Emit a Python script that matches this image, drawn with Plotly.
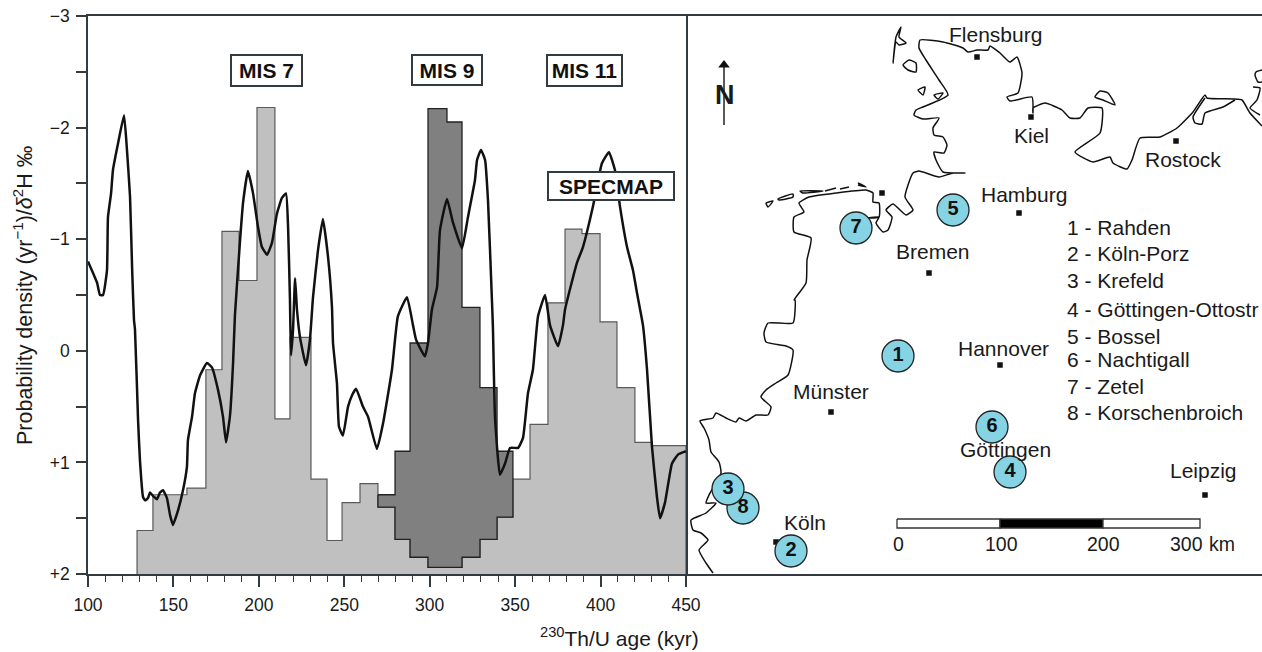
import plotly.graph_objects as go

# ---- left panel: age histogram (kyr) and SPECMAP curve ----
hist_edges = [128.7, 138.0, 157.9, 169.0, 178.4, 188.4, 198.9, 209.4, 218.2, 230.5, 239.9, 248.7, 259.2,
              269.7, 279.7, 288.5, 299.0, 310.1, 318.9, 329.4, 339.4, 348.7, 358.7, 369.2, 379.2, 389.1,
              399.7, 409.6, 420.1, 430.1, 450.0]
light_tops = [1.61, 1.29, 1.23, 0.17, -1.07, -0.63, -2.18, 0.61, -0.12, 1.15, 1.70, 1.36, 1.19,
              1.40, 1.69, 1.85, 1.94, 1.94, 1.85, 1.69, 1.49, 1.15, 0.66, -0.43, -1.09, -1.05,
              -0.26, 0.33, 0.82, 0.85]
dark_edges = [269.7, 279.7, 288.5, 299.0, 310.1, 318.9, 329.4, 339.4, 348.7]
dark_tops = [1.29, 0.90, -0.07, -2.17, -2.05, -0.39, 0.33, 0.90]
dark_bottoms = [1.40, 1.69, 1.85, 1.94, 1.94, 1.85, 1.69, 1.49]

curve_age = [100, 102.3, 105.3, 107.0, 108.8, 111.1, 111.7, 113.5, 114.6, 117.6, 121.1, 122.8, 124.6, 125.8,
             126.9, 127.5, 129.3, 130.4, 132.2, 133.4, 135.1, 136.3, 138.0, 140.4, 142.1, 143.9, 146.2, 148.0,
             149.7, 152.7, 155.6, 157.9, 158.5, 160.9, 162.6, 165.6, 169.6, 172.6, 176.1, 179.0, 180.8, 183.1,
             184.9, 186.0, 189.0, 190.7, 193.6, 196.6, 199.5, 201.8, 204.8, 207.7, 210.6, 213.5, 215.9, 217.1,
             218.2, 218.8, 220.0, 221.2, 222.3, 224.1, 227.6, 229.9, 231.7, 234.6, 237.5, 240.5, 242.8, 243.4,
             245.7, 246.9, 249.2, 252.2, 254.5, 256.9, 260.9, 263.9, 269.1, 272.7, 277.9, 281.4, 286.7, 290.2,
             292.0, 297.2, 299.0, 301.3, 304.3, 306.0, 310.1, 313.6, 318.9, 322.4, 326.5, 327.7, 330.0, 332.4,
             334.1, 336.4, 337.0, 338.2, 341.1, 344.1, 347.0, 351.7, 354.6, 357.5, 360.4, 363.4, 367.5, 370.4,
             375.1, 378.0, 379.2, 386.2, 389.7, 395.5, 400.8, 404.9, 408.4, 411.4, 415.5, 419.0, 421.3, 424.8,
             427.2, 430.1, 433.0, 434.8, 437.7, 441.8, 445.3, 450]
curve_d = [-0.80, -0.72, -0.61, -0.50, -0.50, -0.72, -1.20, -1.41, -1.62, -1.86, -2.11, -1.80, -1.38, -0.75,
           -0.28, -0.19, 0.62, 0.98, 1.31, 1.34, 1.32, 1.27, 1.30, 1.33, 1.27, 1.25, 1.32, 1.47,
           1.56, 1.43, 1.25, 1.04, 0.80, 0.59, 0.38, 0.22, 0.11, 0.15, 0.35, 0.59, 0.82, 0.58,
           0.11, -0.32, -0.99, -1.32, -1.61, -1.41, -1.11, -0.93, -0.86, -0.97, -1.23, -1.37, -1.41, -1.11,
           -0.46, 0.04, -0.19, -0.65, -0.37, -0.12, 0.13, -0.10, -0.48, -0.90, -1.18, -0.84, -0.39, -0.07,
           0.29, 0.68, 0.76, 0.50, 0.40, 0.34, 0.50, 0.59, 0.88, 0.65, 0.17, -0.31, -0.48, -0.23,
           -0.10, 0.05, -0.07, -0.37, -0.57, -1.08, -1.36, -1.15, -0.92, -1.20, -1.53, -1.71, -1.80, -1.71,
           -1.35, -0.46, -0.21, 0.59, 1.11, 1.01, 0.87, 0.87, 0.78, 0.38, 0.17, -0.31, -0.50, -0.23,
           -0.04, -0.23, -0.37, -0.79, -0.93, -1.29, -1.68, -1.78, -1.62, -1.29, -0.93, -0.72, -0.52, -0.23,
           0.17, 0.86, 1.31, 1.50, 1.36, 1.01, 0.93, 0.90]

x_ticks = [100, 150, 200, 250, 300, 350, 400, 450]
y_ticks = [-3, -2, -1, 0, 1, 2]
y_tick_labels = ["\u22123", "\u22122", "\u22121", "0", "+1", "+2"]
mis_labels = ["MIS 7", "MIS 9", "MIS 11", "SPECMAP"]
mis_x = [204.5, 310.1, 390.6, 406.1]
mis_y = [-2.51, -2.52, -2.51, -1.48]
mis_w = [73, 72, 77, 128]
mis_h = [33, 32, 33, 30]

# ---- right panel: map on a grid (east, south) ----
coast_e = [713, 706, 699, 708, 701, 693, 691, 706, 716, 706, 709, 721, 719, 711, 709, 704, 700, 713, 716, 726, 736,
           739, 746, 756, 768, 771, 761, 766, 776, 788, 793, 786, 766, 764, 768, 793, 795, 794, 806, 807, 811, 794,
           794, 804, 799, 809, 836, 866, 873, 873, 879, 879, 868, 879, 876, 883, 888, 892, 886, 893, 906, 913, 905,
           913, 919, 939, 953, 965, 943, 936, 934, 944, 947, 943, 934, 933, 939, 923, 914, 916, 923, 948, 939, 926,
           919, 920, 943, 963, 968, 977, 988, 990, 1000, 1010, 1017, 1022, 1018, 1007, 1010, 1032, 1033, 1033, 1045,
           1062, 1070, 1080, 1088, 1102, 1100, 1075, 1093, 1110, 1113, 1127, 1132, 1140, 1160, 1177, 1193, 1205,
           1207, 1233, 1242, 1250, 1262]
coast_s = [573, 563, 550, 540, 533, 530, 520, 513, 503, 503, 495, 473, 462, 452, 440, 428, 421, 418, 413, 418, 422,
           418, 421, 415, 415, 407, 397, 390, 383, 375, 350, 346, 342, 333, 323, 323, 300, 300, 283, 260, 238, 232,
           217, 212, 203, 197, 193, 190, 193, 202, 203, 217, 218, 217, 223, 232, 230, 217, 210, 204, 215, 210, 197,
           173, 171, 177, 173, 173, 172, 160, 152, 153, 145, 137, 135, 128, 118, 119, 115, 110, 107, 95, 80, 60,
           48, 40, 42, 48, 52, 50, 50, 46, 53, 62, 57, 73, 93, 97, 101, 97, 113, 108, 103,
           110, 118, 118, 108, 108, 133, 152, 162, 157, 163, 169, 160, 138, 137, 128, 112, 95,
           98, 99, 100, 113, 126]
shapes_e = [[1205, 1193, 1195, 1202, 1205, 1223, 1235],
            [1095, 1100, 1108, 1115, 1103, 1095],
            [1262, 1256, 1255, 1258, 1262],
            [1253, 1260, 1257, 1250, 1260],
            [901, 896, 893, 896, 899, 906, 899, 901],
            [903, 909, 916, 916, 908, 903],
            [918, 925, 923, 918],
            [934, 943, 938, 934],
            [766, 773, 768, 766],
            [778, 793, 793, 779, 778],
            [800, 823, 803, 800],
            [825, 836],
            [840, 849],
            [858, 866, 858]]
shapes_s = [[98, 117, 123, 124, 113, 107, 100],
            [97, 91, 93, 105, 100, 97],
            [70, 72, 75, 82, 82],
            [87, 88, 100, 108, 115],
            [27, 37, 63, 42, 45, 43, 37, 27],
            [65, 60, 63, 72, 70, 65],
            [90, 87, 95, 90],
            [95, 93, 99, 95],
            [203, 201, 207, 203],
            [199, 194, 197, 200, 199],
            [191, 191, 193, 191],
            [191, 188],
            [189, 187],
            [183, 187, 185]]

city_names = ["Flensburg", "Kiel", "Rostock", "Hamburg", "Bremen", "Hannover", "M\u00fcnster", "K\u00f6ln", "Leipzig", "G\u00f6ttingen"]
city_label_e = [995, 1031, 1183, 1024, 933, 1003, 831, 805, 1203, 1005]
city_label_s = [35, 136, 160, 195, 252, 348, 391, 522, 470, 449]
dot_e = [977, 1031, 1176, 1019, 929, 1000, 831, 776, 1205, 882]
dot_s = [57, 117, 141, 213, 273, 365, 412, 542, 495, 193]
site_ids = ["1", "2", "4", "5", "6", "7", "8", "3"]
site_e = [898, 791, 1010, 953, 992, 856, 743, 728]
site_s = [356, 551, 472, 210, 427, 228, 508, 489]
legend_rows = ["1 - Rahden", "2 - K\u00f6ln-Porz", "3 - Krefeld", "4 - G\u00f6ttingen-Ottostr", "5 - Bossel",
               "6 - Nachtigall", "7 - Zetel", "8 - Korschenbroich"]
legend_s = [228, 254, 280, 309, 336, 359, 386, 412]
scale_edges = [897, 1000, 1103, 1200]
scale_fill = ["white", "black", "white"]
scale_labels = ["0", "100", "200", "300", "km"]
scale_label_e = [898, 1001, 1103, 1186, 1222]

FONT = "Liberation Sans, Arial, sans-serif"
INK = "#333b40"
W, H = 1262, 652
fig = go.Figure()


def top_steps(edges, tops):
    xs, ys = [], []
    for i, t in enumerate(tops):
        xs += [edges[i], edges[i + 1]]
        ys += [t, t]
    return xs, ys


lx, ly = top_steps(hist_edges, light_tops)
fig.add_trace(go.Scatter(x=[hist_edges[0]] + lx + [hist_edges[-1]], y=[2] + ly + [2], mode="lines", fill="toself",
                         fillcolor="#c0c0c0", line=dict(color="#5a5a5a", width=1.2), hoverinfo="skip"))
dx, dy = top_steps(dark_edges, dark_tops)
bx, by = top_steps(dark_edges, dark_bottoms)
fig.add_trace(go.Scatter(x=dx + bx[::-1] + dx[:1], y=dy + by[::-1] + dy[:1], mode="lines", fill="toself",
                         fillcolor="#808080", line=dict(color="#222222", width=1.3), hoverinfo="skip"))
fig.add_trace(go.Scatter(x=curve_age, y=curve_d, mode="lines", line=dict(color="#111111", width=2.5, shape="spline", smoothing=0.4),
                         hoverinfo="skip"))

# map
map_axes = dict(xaxis="x2", yaxis="y2", hoverinfo="skip")
fig.add_trace(go.Scatter(x=coast_e, y=coast_s, mode="lines", line=dict(color="#111111", width=1.5, shape="spline", smoothing=0.5), **map_axes))
for e, s in zip(shapes_e, shapes_s):
    fig.add_trace(go.Scatter(x=e, y=s, mode="lines", line=dict(color="#111111", width=1.5, shape="spline", smoothing=0.5), **map_axes))
fig.add_trace(go.Scatter(x=dot_e, y=dot_s, mode="markers", marker=dict(symbol="square", size=5.5, color="#111111"), **map_axes))
for i, c in enumerate(scale_fill):
    a, b = scale_edges[i], scale_edges[i + 1]
    fig.add_trace(go.Scatter(x=[a, b, b, a, a], y=[519, 519, 528, 528, 519], mode="lines", fill="toself", fillcolor=c,
                             line=dict(color="#333333", width=1.3), **map_axes))
# north arrow
fig.add_trace(go.Scatter(x=[724, 724], y=[125, 66], mode="lines", line=dict(color="#222222", width=1.5), **map_axes))
fig.add_trace(go.Scatter(x=[724], y=[65], mode="markers", marker=dict(symbol="triangle-up", size=10, color="#111111"), **map_axes))
# sites
for sid, e, s in zip(site_ids, site_e, site_s):
    fig.add_trace(go.Scatter(x=[e], y=[s], mode="markers+text", text=[sid], textposition="middle center",
                             textfont=dict(family=FONT, size=20, color="#111111", weight="bold"),
                             marker=dict(size=32, color="#86d3e3", line=dict(color="#222222", width=1.3)), **map_axes))


def note(text, x, y, size, xref="x2", yref="y2", **kw):
    fig.add_annotation(text=text, x=x, y=y, xref=xref, yref=yref, showarrow=False,
                       font=dict(family=FONT, size=size, color="#1a1a1a"), **kw)


for t, e, s in zip(city_names, city_label_e, city_label_s):
    note(t, e, s, 21)
for t, s in zip(legend_rows, legend_s):
    note(t, 1065, s, 21, xanchor="left")
for t, e in zip(scale_labels, scale_label_e):
    note(t, e, 544, 19.5)
note("<b>N</b>", 725, 95, 27)

for t, x, y, w, h in zip(mis_labels, mis_x, mis_y, mis_w, mis_h):
    fig.add_annotation(text="<b>%s</b>" % t, x=x, y=y, xref="x", yref="y", showarrow=False, width=w - 4, height=h - 4,
                       font=dict(family=FONT, size=21, color="#111111"), bgcolor="white", bordercolor=INK, borderwidth=2,
                       borderpad=0, align="center", valign="middle")

note("<sup>230</sup>Th/U age (kyr)", 619 / W, 1 - 637 / H, 21, xref="paper", yref="paper", xanchor="center", yanchor="middle")
note("Probability density (yr<sup>\u22121</sup>)/<i>\u03b4</i><sup>2</sup>H \u2030", 23 / W, 1 - 296 / H, 21.5,
     xref="paper", yref="paper", textangle=-90, xanchor="center", yanchor="middle")

fig.update_layout(
    width=W, height=H, margin=dict(l=0, r=0, t=0, b=0, autoexpand=False), paper_bgcolor="white", plot_bgcolor="rgba(0,0,0,0)",
    showlegend=False,
    xaxis=dict(domain=[88 / W, 686 / W], range=[100, 450], tickvals=x_ticks, ticks="outside", ticklen=11, tickwidth=1.6,
               tickcolor=INK, showline=True, linecolor=INK, linewidth=1.6, mirror=True, showgrid=False, zeroline=False,
               tickfont=dict(family=FONT, size=17.5, color="#1a1a1a"), ticklabelstandoff=3, automargin=False,
               minor=dict(dtick=10, ticks="outside", ticklen=6, tickwidth=1.2, tickcolor=INK, showgrid=False)),
    yaxis=dict(domain=[1 - 574 / H, 1 - 16 / H], range=[2, -3], tickvals=y_ticks, ticktext=y_tick_labels, ticks="outside",
               ticklen=10, tickwidth=1.6, tickcolor=INK, showline=True, linecolor=INK, linewidth=1.6, mirror=True,
               showgrid=False, zeroline=False, tickfont=dict(family=FONT, size=17.5, color="#1a1a1a"), ticklabelstandoff=3, automargin=False,
               minor=dict(dtick=0.5, ticks="outside", ticklen=10, tickwidth=1.6, tickcolor=INK, showgrid=False)),
    xaxis2=dict(domain=[686 / W, 1], range=[686, 1262], anchor="y2", showline=True, linecolor=INK, linewidth=1.6, mirror=True,
                showgrid=False, zeroline=False, showticklabels=False, ticks="", automargin=False),
    yaxis2=dict(domain=[1 - 574 / H, 1 - 16 / H], range=[574, 16], anchor="x2", showline=False, showgrid=False, zeroline=False,
                showticklabels=False, ticks="", automargin=False),
)

fig.write_html("out.html", config={"displayModeBar": False},
               post_script="document.body.style.margin='0';document.body.style.overflow='hidden';")
